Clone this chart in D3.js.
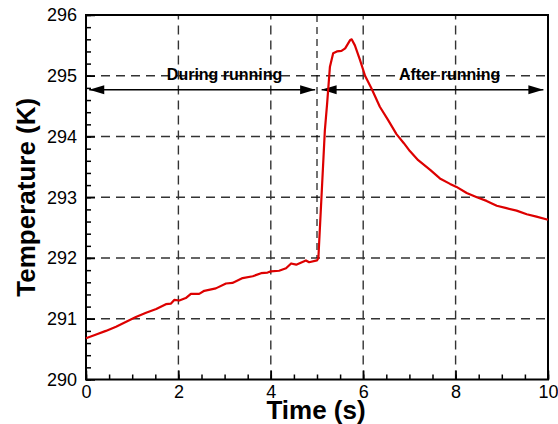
<!DOCTYPE html>
<html>
<head>
<meta charset="utf-8">
<script src="https://cdn.jsdelivr.net/npm/d3@7.9.0/dist/d3.min.js"></script>
<style>
  body { margin: 0; background: #fff; }
  svg { display: block; font-family: "Liberation Sans", Arial, sans-serif; }
</style>
</head>
<body>
<svg id="chart" width="558" height="424"></svg>
<script>
// --- data ---
const times = [
  0, 0.22, 0.43, 0.65, 0.87, 1.08, 1.30, 1.52, 1.73, 1.84, 1.91, 2.02, 2.16, 2.27, 2.45,
  2.56, 2.81, 3.03, 3.17, 3.39, 3.61, 3.79, 3.93, 4.00, 4.18, 4.33, 4.44, 4.55, 4.76,
  4.83, 5.00, 5.03, 5.10, 5.17, 5.22, 5.28, 5.35, 5.43, 5.53, 5.61, 5.72, 5.75, 5.82,
  5.93, 6.04, 6.18, 6.36, 6.54, 6.72, 6.88, 7.01, 7.19, 7.45, 7.66, 7.88, 8.02, 8.24,
  8.46, 8.67, 8.89, 9.10, 9.32, 9.54, 9.75, 10.0
];
const temps = [
  290.68, 290.74, 290.80, 290.87, 290.95, 291.03, 291.10, 291.16, 291.24, 291.25, 291.31,
  291.30, 291.34, 291.41, 291.41, 291.46, 291.50, 291.58, 291.59, 291.67, 291.70, 291.75,
  291.76, 291.78, 291.79, 291.83, 291.91, 291.89, 291.96, 291.93, 291.96, 292.00, 293.05,
  294.10, 294.55, 295.15, 295.37, 295.40, 295.41, 295.45, 295.59, 295.60, 295.50, 295.26,
  295.00, 294.79, 294.49, 294.27, 294.04, 293.89, 293.76, 293.61, 293.45, 293.31, 293.22,
  293.17, 293.07, 293.00, 292.94, 292.86, 292.82, 292.78, 292.72, 292.68, 292.63
];
const xTicks = [0, 2, 4, 6, 8, 10];
const yTicks = [290, 291, 292, 293, 294, 295, 296];
const phaseLabels = ['During running', 'After running'];
const phaseArrows = [[0.07, 4.96], [5.10, 9.90]];
const phaseLabelX = [3.0, 7.87];

const W = 558, H = 424;
const margin = { top: 15, right: 10, bottom: 44.5, left: 86 };

const x = d3.scaleLinear().domain([0, 10]).range([margin.left, W - margin.right]);
const y = d3.scaleLinear().domain([290, 296]).range([H - margin.bottom, margin.top]);

const svg = d3.select('#chart');

// arrow heads
const defs = svg.append('defs');
['start', 'end'].forEach(kind => {
  defs.append('marker')
    .attr('id', 'arrow-' + kind)
    .attr('markerUnits', 'userSpaceOnUse')
    .attr('markerWidth', 16).attr('markerHeight', 10)
    .attr('refX', kind === 'end' ? 15 : 0).attr('refY', 4.5)
    .attr('orient', 'auto')
    .append('path')
    .attr('d', kind === 'end' ? 'M0,0 L15,4.5 L0,9 Z' : 'M15,0 L0,4.5 L15,9 Z')
    .attr('fill', '#000');
});

// grid
const grid = svg.append('g').attr('stroke', '#333').attr('stroke-width', 1.4)
  .attr('stroke-dasharray', '9,6');
grid.selectAll('.gx').data(xTicks.slice(1, -1)).join('line')
  .attr('x1', d => x(d)).attr('x2', d => x(d))
  .attr('y1', y(290)).attr('y2', y(296));
grid.selectAll('.gy').data(yTicks.slice(1, -1)).join('line')
  .attr('x1', x(0)).attr('x2', x(10))
  .attr('y1', d => y(d)).attr('y2', d => y(d));

// boundary between the two phases
svg.append('line')
  .attr('x1', x(5)).attr('x2', x(5))
  .attr('y1', y(296)).attr('y2', y(292))
  .attr('stroke', '#000').attr('stroke-width', 1.1)
  .attr('stroke-dasharray', '7,5');

// minor ticks
const minorX = d3.range(0, 10.001, 0.5);
const minorY = d3.range(290, 296.001, 0.2);
svg.append('g').attr('transform', `translate(0,${y(290)})`)
  .call(d3.axisBottom(x).tickValues(minorX).tickSize(-5).tickFormat(''))
  .call(g => g.select('.domain').remove())
  .selectAll('line').attr('stroke-width', 1.5);
svg.append('g').attr('transform', `translate(${x(0)},0)`)
  .call(d3.axisLeft(y).tickValues(minorY).tickSize(-5).tickFormat(''))
  .call(g => g.select('.domain').remove())
  .selectAll('line').attr('stroke-width', 1.5);

// major ticks + labels
const xAxis = svg.append('g').attr('transform', `translate(0,${y(290)})`)
  .call(d3.axisBottom(x).tickValues(xTicks).tickSize(-9).tickPadding(6).tickFormat(d3.format('d')));
xAxis.select('.domain').remove();
xAxis.selectAll('line').attr('stroke-width', 1.5);
xAxis.selectAll('text').attr('font-size', 18).attr('font-family', '"Liberation Sans", Arial, sans-serif').attr('fill', '#000');

const yAxis = svg.append('g').attr('transform', `translate(${x(0)},0)`)
  .call(d3.axisLeft(y).tickValues(yTicks).tickSize(-9).tickPadding(9).tickFormat(d3.format('d')));
yAxis.select('.domain').remove();
yAxis.selectAll('line').attr('stroke-width', 1.5);
yAxis.selectAll('text').attr('font-size', 18).attr('font-family', '"Liberation Sans", Arial, sans-serif').attr('fill', '#000');

// frame
svg.append('rect')
  .attr('x', x(0)).attr('y', y(296))
  .attr('width', x(10) - x(0)).attr('height', y(290) - y(296))
  .attr('fill', 'none').attr('stroke', '#000').attr('stroke-width', 2);

// phase arrows and labels
svg.selectAll('.phase-arrow').data(phaseArrows).join('line')
  .attr('x1', d => x(d[0])).attr('x2', d => x(d[1]))
  .attr('y1', y(294.77)).attr('y2', y(294.77))
  .attr('stroke', '#000').attr('stroke-width', 1.6)
  .attr('marker-start', 'url(#arrow-start)')
  .attr('marker-end', 'url(#arrow-end)');

svg.selectAll('.phase-label').data(phaseLabels).join('text')
  .attr('x', (d, i) => x(phaseLabelX[i])).attr('y', y(294.93))
  .attr('text-anchor', 'middle')
  .attr('font-size', 16).attr('font-weight', 'bold')
  .text(d => d);

// temperature curve
const line = d3.line().x((d, i) => x(times[i])).y(d => y(d));
svg.append('path')
  .attr('d', line(temps))
  .attr('fill', 'none').attr('stroke', '#dd0000').attr('stroke-width', 2.2)
  .attr('stroke-linejoin', 'round');

// axis titles
svg.append('text')
  .attr('x', (x(0) + x(10)) / 2 - 1).attr('y', 419)
  .attr('text-anchor', 'middle')
  .attr('font-size', 26).attr('font-weight', 'bold')
  .text('Time (s)');

svg.append('text')
  .attr('transform', `translate(35,${(y(290) + y(296)) / 2}) rotate(-90)`)
  .attr('text-anchor', 'middle')
  .attr('font-size', 26).attr('font-weight', 'bold')
  .text('Temperature (K)');
</script>
</body>
</html>
